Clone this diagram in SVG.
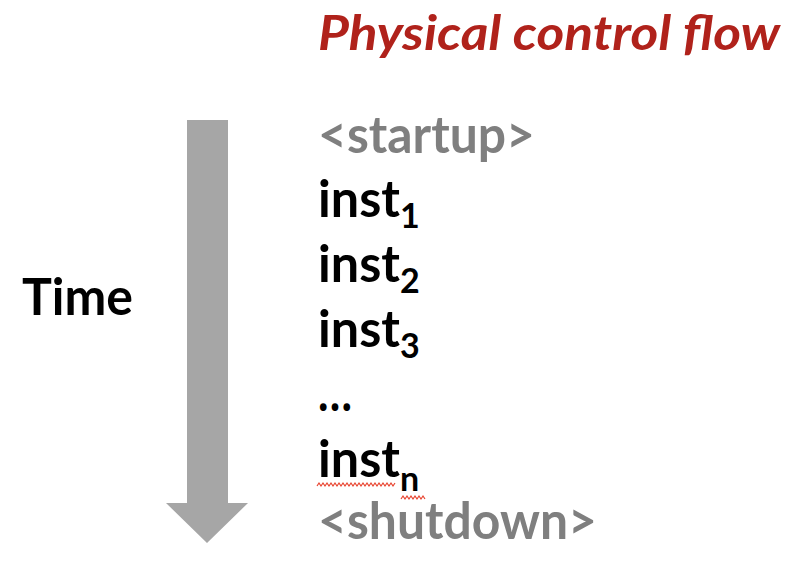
<svg xmlns="http://www.w3.org/2000/svg" width="802" height="582" viewBox="0 0 802 582">
<style>
  .t { font-family: Lato, "Open Sans", "Liberation Sans", sans-serif; font-weight: bold; }
  .main { font-size: 51px; fill: #000; }
  .sub { font-size: 34px; }
  .gray { font-size: 51px; fill: #7f7f7f; }
  .title { font-size: 48px; font-style: italic; fill: #b0221b; }
  .squig { fill: none; stroke: #e8432f; stroke-width: 1.2; }
</style>
<rect width="802" height="582" fill="#fff"/>
<g id="title">
  <text class="t title" x="318" y="50" textLength="462" lengthAdjust="spacingAndGlyphs">Physical control flow</text>
</g>
<g id="time-arrow">
  <polygon points="187,120 228,120 228,503 248,503 207,543 166,503 187,503" fill="#a6a6a6"/>
</g>
<g id="time-label">
  <text class="t main" x="22" y="315" textLength="111" lengthAdjust="spacingAndGlyphs">Time</text>
</g>
<g id="startup">
  <text class="t gray" x="318" y="153" textLength="217" lengthAdjust="spacingAndGlyphs">&lt;startup&gt;</text>
</g>
<g id="inst1">
  <text class="t main" x="318" y="217"><tspan textLength="82" lengthAdjust="spacingAndGlyphs">inst</tspan><tspan class="sub" x="400" y="228">1</tspan></text>
</g>
<g id="inst2">
  <text class="t main" x="318" y="282"><tspan textLength="82" lengthAdjust="spacingAndGlyphs">inst</tspan><tspan class="sub" x="400" y="293">2</tspan></text>
</g>
<g id="inst3">
  <text class="t main" x="318" y="347"><tspan textLength="82" lengthAdjust="spacingAndGlyphs">inst</tspan><tspan class="sub" x="400" y="358">3</tspan></text>
</g>
<g id="ellipsis">
  <text class="t main" x="318" y="411" textLength="34" lengthAdjust="spacingAndGlyphs">…</text>
</g>
<g id="instn">
  <text class="t main" x="318" y="477"><tspan textLength="82" lengthAdjust="spacingAndGlyphs">inst</tspan><tspan class="sub" x="400" y="491">n</tspan></text>
  <path class="squig" d="M317,486 l2,-3 l2,3 l2,-3 l2,3 l2,-3 l2,3 l2,-3 l2,3 l2,-3 l2,3 l2,-3 l2,3 l2,-3 l2,3 l2,-3 l2,3 l2,-3 l2,3 l2,-3 l2,3 l2,-3 l2,3 l2,-3 l2,3 l2,-3 l2,3 l2,-3 l2,3 l2,-3 l2,3 l2,-3 l2,3 l2,-3 l2,3 l2,-3 l2,3 l2,-3 l2,3 l2,-3"/>
  <path class="squig" d="M401,499 l2,-3 l2,3 l2,-3 l2,3 l2,-3 l2,3 l2,-3 l2,3 l2,-3 l2,3 l2,-3 l2,3"/>
</g>
<g id="shutdown">
  <text class="t gray" x="318" y="539" textLength="279" lengthAdjust="spacingAndGlyphs">&lt;shutdown&gt;</text>
</g>
</svg>
